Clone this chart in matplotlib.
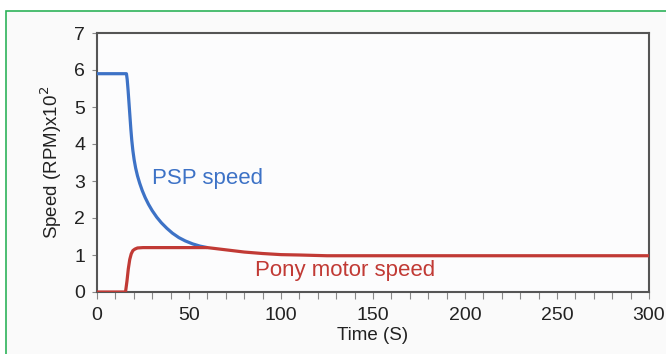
import matplotlib
matplotlib.use("Agg")
import matplotlib.pyplot as plt
from matplotlib.patches import Rectangle
import numpy as np

plt.rcParams['font.family'] = ['Liberation Sans', 'DejaVu Sans']

# PSP speed (x100 RPM) over time (s)
psp_t = [0, 16.0, 16.4, 16.9, 17.4, 17.9, 18.4, 18.9, 19.5, 20.2, 21.0, 22.0, 23.2, 24.6,
         26.2, 28.0, 30.0, 32.5, 35.0, 38.0, 41.0, 44.5, 48.0, 52.0, 56.0, 60.0]
psp_v = [5.9, 5.90, 5.75, 5.45, 5.10, 4.75, 4.40, 4.10, 3.82, 3.57, 3.35, 3.14, 2.94, 2.74,
         2.55, 2.37, 2.20, 2.02, 1.87, 1.72, 1.59, 1.47, 1.38, 1.30, 1.24, 1.20]

# Pony motor speed (x100 RPM) over time (s)
pony_t = [0, 15.5, 16.3, 17, 17.8, 18.6, 19.5, 20.6, 22, 25, 40, 60, 70, 80, 90, 100,
          110, 125, 150, 200, 250, 300]
pony_v = [0, 0, 0.3, 0.62, 0.88, 1.03, 1.12, 1.16, 1.19, 1.2, 1.2, 1.2, 1.14, 1.08, 1.04,
          1.01, 1.0, 0.98, 0.98, 0.98, 0.98, 0.98]

x_ticks = [0, 50, 100, 150, 200, 250, 300]
y_ticks = [0, 1, 2, 3, 4, 5, 6, 7]

fig = plt.figure(figsize=(6.66, 3.54), dpi=100)
fig.patch.set_facecolor('white')

# framed panel behind the axes
fig.patches.append(Rectangle((5.5 / 666, -0.1), 1.2, (354 - 11.5) / 354 + 0.1,
                             transform=fig.transFigure, facecolor='#fafafa',
                             edgecolor='#2db35a', linewidth=1.2, zorder=-5))

ax = fig.add_axes([97 / 666, (354 - 292) / 354, (649 - 97) / 666, (292 - 33) / 354])
ax.set_zorder(1)
ax.set_facecolor('#fcfcfd')

blue = '#3d72c6'
red = '#c13a35'
ax.plot(psp_t, psp_v, color=blue, lw=2.3, solid_capstyle='butt', solid_joinstyle='round', zorder=3)
ax.plot(pony_t, pony_v, color=red, lw=2.3, solid_capstyle='butt', solid_joinstyle='round', zorder=4)

ax.set_xlim(0, 300)
ax.set_ylim(0, 7)
ax.set_xticks(x_ticks)
ax.set_xticks(np.arange(0, 301, 10), minor=True)
ax.set_yticks(y_ticks)

for s in ax.spines.values():
    s.set_color('#555555')
    s.set_linewidth(1.5)

ax.tick_params(axis='x', which='both', direction='out', length=5, width=0.8,
               color='#888888', labelsize=14, pad=6, labelcolor='#222222')
ax.tick_params(axis='y', which='major', direction='out', length=3.6, width=0.8,
               color='#888888', labelsize=14, pad=5, labelcolor='#222222')

ax.set_xlabel('Time (S)', fontsize=13.5, labelpad=2, color='#222222')
ax.set_ylabel('Speed (RPM)x10$^2$', fontsize=13.5, labelpad=7, color='#222222')

ax.text(30, 3.08, 'PSP speed', color=blue, fontsize=16, ha='left', va='center')
ax.text(86, 0.57, 'Pony motor speed', color=red, fontsize=16, ha='left', va='center')

fig.savefig('out.png', dpi=100, facecolor=fig.get_facecolor())
